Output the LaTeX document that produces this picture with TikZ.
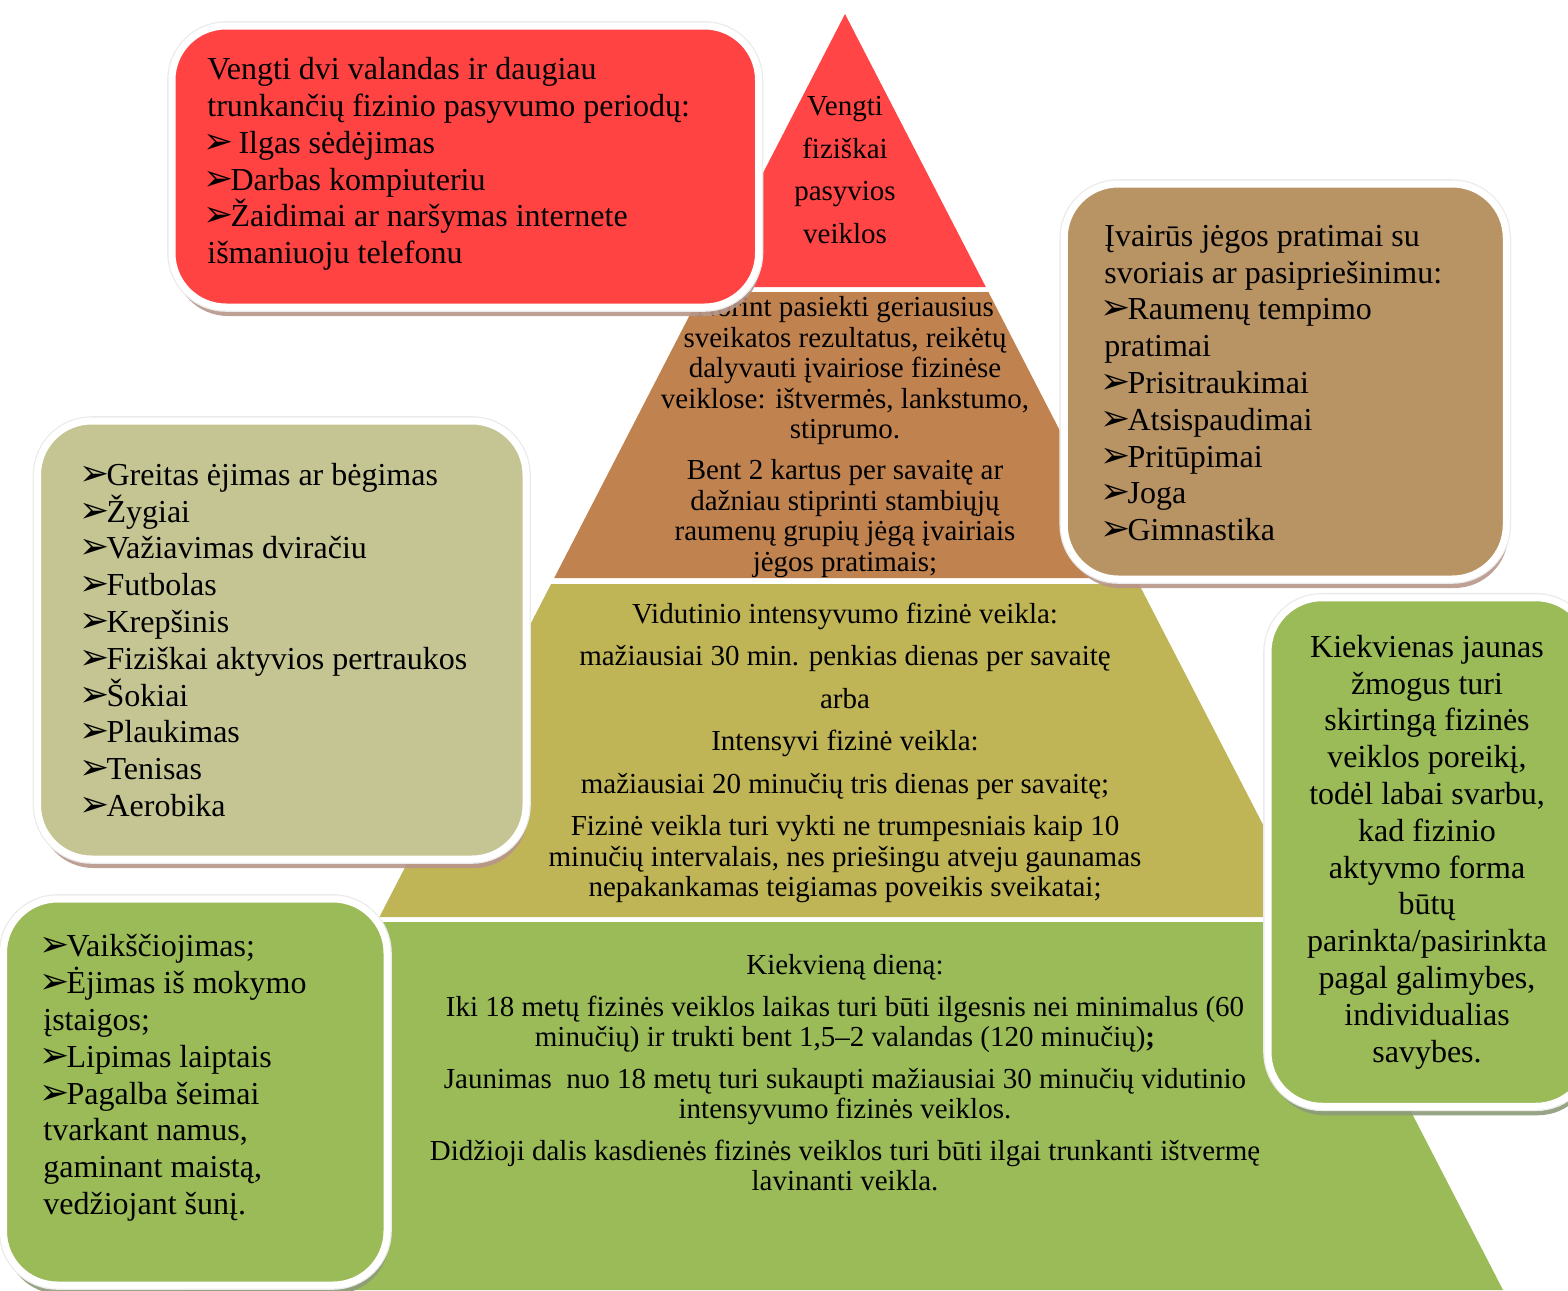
\documentclass[tikz,border=0pt]{standalone}
\usepackage{fontspec}
\setmainfont{Liberation Serif}
\newfontfamily\arrowfont{DejaVu Sans}
\usetikzlibrary{shadows}

\definecolor{pyrred}{HTML}{FF4545}
\definecolor{pyrbrown}{HTML}{C0824F}
\definecolor{pyrolive}{HTML}{BFB456}
\definecolor{pyrgreen}{HTML}{9BBB59}
\definecolor{redbox}{HTML}{FF4343}
\definecolor{tanbox}{HTML}{B89364}
\definecolor{sagebox}{HTML}{C5C594}
\definecolor{greenbox}{HTML}{9BBB59}
\definecolor{shadowtan}{HTML}{B8968A}
\definecolor{shadowgreen}{HTML}{8C9A78}

\newcommand{\bul}{\kern-2pt{\arrowfont\fontsize{18}{18}\selectfont\char"27A2}\kern-1.5pt}

\begin{document}
\begin{tikzpicture}[x=0.5pt, y=-0.5pt,
    box/.style={rounded corners=27pt, draw=white, line width=3.5pt, inner sep=0pt,
      drop shadow={shadow xshift=1pt, shadow yshift=-4.5pt, fill=#1, opacity=.9},
      preaction={draw=black!8, line width=4.8pt}},
    boxtext/.style={font=\fontsize{16}{18.4}\selectfont, align=left, inner sep=0pt, anchor=west},
    pyrtext/.style={font=\fontsize{14.5}{15.25}\selectfont, align=center, inner sep=0pt}]
    \useasboundingbox (0,0) rectangle (1568,1290);

    % pyramid
    \fill[pyrred] (845,14) -- (985.8,287) -- (704.2,287) -- cycle;
    \fill[pyrbrown] (701.6,292) -- (988.4,292) -- (1135.8,578) -- (554.2,578) -- cycle;
    \fill[pyrolive] (551.1,584) -- (1138.9,584) -- (1310.6,917) -- (379.4,917) -- cycle;
    \fill[pyrgreen] (376.8,922) -- (1313.2,922) -- (1503,1290) -- (187,1290) -- cycle;

    \node[pyrtext, font=\fontsize{14.5}{21.25}\selectfont] (passive) at (845,170)
        {Vengti\\ fiziškai\\ pasyvios\\ veiklos};
    \node[pyrtext] (strength) at (845,437)
        {Norint pasiekti geriausius\\ sveikatos rezultatus, reikėtų\\ dalyvauti įvairiose fizinėse\\
         veiklose: ištvermės, lankstumo,\\ stiprumo.\\[5.25pt]
         Bent 2 kartus per savaitę ar\\ dažniau stiprinti stambiųjų\\ raumenų grupių jėgą įvairiais\\ jėgos pratimais;};
    \node[pyrtext] (moderate) at (845,753)
        {Vidutinio intensyvumo fizinė veikla:\\[6pt] mažiausiai 30 min. penkias dienas per savaitę\\[6pt]
         arba\\[6pt] Intensyvi fizinė veikla:\\[6pt] mažiausiai 20 minučių tris dienas per savaitę;\\[6pt]
         Fizinė veikla turi vykti ne trumpesniais kaip 10\\ minučių intervalais, nes priešingu atveju gaunamas\\
         nepakankamas teigiamas poveikis sveikatai;};
    \node[pyrtext] (daily) at (845,1073)
        {Kiekvieną dieną:\\[5.5pt]
         Iki 18 metų fizinės veiklos laikas turi būti ilgesnis nei minimalus (60\\
         minučių) ir trukti bent 1,5–2 valandas (120 minučių)\textbf{;}\\[5.5pt]
         Jaunimas\ \ nuo 18 metų turi sukaupti mažiausiai 30 minučių vidutinio\\ intensyvumo fizinės veiklos.\\[5.5pt]
         Didžioji dalis kasdienės fizinės veiklos turi būti ilgai trunkanti ištvermę\\ lavinanti veikla.};

    % boxes round the pyramid
    \node[box=shadowtan, fill=redbox, minimum width=293.25pt, minimum height=140.5pt] (avoidbox) at (465.25,166.5) {};
    \node[boxtext] (avoidtxt) at (207,164)
        {Vengti dvi valandas ir daugiau\\ trunkančių fizinio pasyvumo periodų:\\ \bul\ Ilgas sėdėjimas\\
         \bul Darbas kompiuteriu\\ \bul Žaidimai ar naršymas internete\\ išmaniuoju telefonu};

    \node[box=shadowtan, fill=tanbox, minimum width=221pt, minimum height=197.5pt] (liftbox) at (1285.25,381.5) {};
    \node[boxtext] (lifttxt) at (1104,383)
        {Įvairūs jėgos pratimai su\\ svoriais ar pasipriešinimu:\\ \bul Raumenų tempimo\\ pratimai\\
         \bul Prisitraukimai\\ \bul Atsispaudimai\\ \bul Pritūpimai\\ \bul Joga\\ \bul Gimnastika};

    \node[box=shadowtan, fill=sagebox, minimum width=244.25pt, minimum height=219pt] (sportbox) at (281.75,640) {};
    \node[boxtext] (sporttxt) at (83,640)
        {\bul Greitas ėjimas ar bėgimas\\ \bul Žygiai\\ \bul Važiavimas dviračiu\\ \bul Futbolas\\ \bul Krepšinis\\
         \bul Fiziškai aktyvios pertraukos\\ \bul Šokiai\\ \bul Plaukimas\\ \bul Tenisas\\ \bul Aerobika};

    \node[box=shadowgreen, fill=greenbox, minimum width=191.75pt, minimum height=193pt] (homebox) at (195.25,1092) {};
    \node[boxtext] (hometxt) at (43,1078)
        {\bul Vaikščiojimas;\\ \bul Ėjimas iš mokymo\\ įstaigos;\\ \bul Lipimas laiptais\\ \bul Pagalba šeimai\\
         tvarkant namus,\\ gaminant maistą,\\ vedžiojant šunį.};

    \node[box=shadowgreen, fill=greenbox, minimum width=161pt, minimum height=254.25pt] (needbox) at (1429,852) {};
    \node[boxtext, align=center, anchor=center] (needtxt) at (1427,852)
        {Kiekvienas jaunas\\ žmogus turi\\ skirtingą fizinės\\ veiklos poreikį,\\ todėl labai svarbu,\\ kad fizinio\\
         aktyvmo forma\\ būtų\\ parinkta/pasirinkta\\ pagal galimybes,\\ individualias\\ savybes.};
\end{tikzpicture}
\end{document}
